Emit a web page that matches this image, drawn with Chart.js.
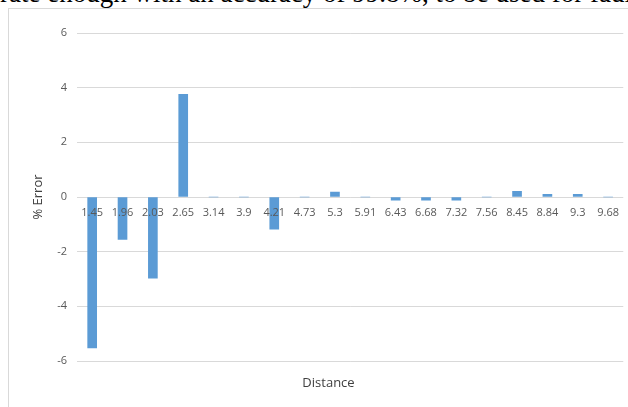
<!DOCTYPE html>
<html>
<head>
<meta charset="utf-8">
<script src="https://cdn.jsdelivr.net/npm/chart.js@4/dist/chart.umd.min.js"></script>
<style>
  html, body { margin: 0; padding: 0; background: #fff; overflow: hidden; }
  body { width: 628px; height: 407px; position: relative; }
  .caption {
    position: absolute; left: 0; top: -20px; white-space: nowrap;
    font-family: "Liberation Serif", "DejaVu Serif", serif; font-size: 27px; line-height: 27px; color: #000;
  }
  .frame {
    position: absolute; left: 8px; top: 8px; width: 640px; height: 420px;
    border-left: 1px solid #d9d9d9; border-top: 1px solid #d9d9d9;
  }
  .box { position: absolute; left: 0; top: 0; width: 628px; height: 407px; }
</style>
</head>
<body>
<div class="caption">rate enough with an accuracy of 99.8%, to be used for fault</div>
<div class="frame"></div>
<div class="box"><canvas id="bar-chart"></canvas></div>
<script>
// distance categories and % error per distance
var distances = ["1.45", "1.96", "2.03", "2.65", "3.14", "3.9", "4.21", "4.73", "5.3",
                 "5.91", "6.43", "6.68", "7.32", "7.56", "8.45", "8.84", "9.3", "9.68"];
var errors = [-5.52, -1.55, -2.97, 3.76, 0, 0, -1.18, 0, 0.18,
              0, -0.12, -0.12, -0.12, 0, 0.21, 0.1, 0.1, 0];
var yMin = -6, yMax = 6, yStep = 2;

var config = {
  type: "bar",
  data: {
    labels: distances,
    datasets: [
      {
        label: "% Error",
        data: errors,
        backgroundColor: "#5b9bd5",
        barThickness: 9,
      },
    ],
  },
  options: {
    responsive: true,
    maintainAspectRatio: false,
    animation: false,
    layout: { padding: { left: 30, top: 33, right: 1, bottom: 0 } },
    plugins: {
      legend: { display: false },
      tooltip: { enabled: false },
      title: {
        display: true,
        position: "bottom",
        text: "Distance",
        color: "#404040",
        font: { family: "Open Sans", size: 13, weight: "normal" },
        padding: { top: 14.5, bottom: 15.9 },
      },
    },
    scales: {
      x: {
        position: { y: 0 },
        grid: { display: false, drawTicks: false },
        border: { display: false },
        ticks: {
          z: 1, // labels sit on top of the bars
          autoSkip: false,
          maxRotation: 0,
          padding: 9,
          color: "#595959",
          font: { family: "Open Sans", size: 11 },
        },
      },
      y: {
        min: yMin,
        max: yMax,
        afterFit: function (scale) { scale.width = 47; },
        border: { display: false },
        grid: { color: "#d9d9d9", drawTicks: false },
        ticks: {
          stepSize: yStep,
          padding: 10,
          color: "#595959",
          font: { family: "Open Sans", size: 11 },
        },
        title: {
          display: true,
          text: "% Error",
          color: "#404040",
          padding: 0,
          font: { family: "Open Sans", size: 13 },
        },
      },
    },
  },
};

var ctx = document.getElementById("bar-chart").getContext("2d");
window.myBar = new Chart(ctx, config);
</script>
</body>
</html>
